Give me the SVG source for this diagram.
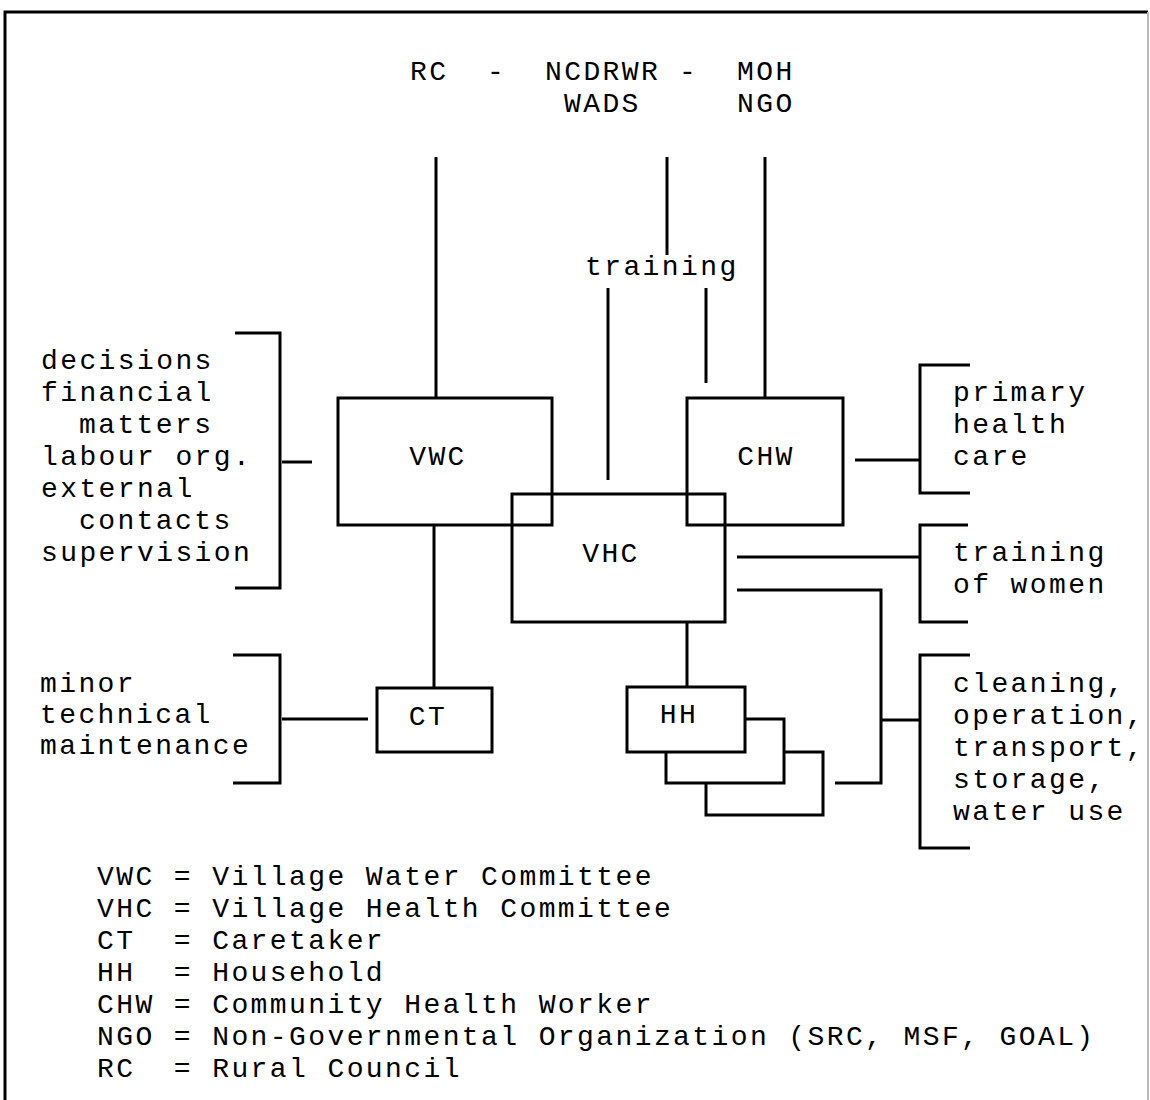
<svg xmlns="http://www.w3.org/2000/svg" width="1150" height="1100" viewBox="0 0 1150 1100">
<style>
text{font-family:"Liberation Mono","DejaVu Sans Mono",monospace;font-size:28px;letter-spacing:2.4px;fill:#000;white-space:pre}
.lbl{text-anchor:middle}
.ln{stroke:#000;stroke-width:3;fill:none}
.box{stroke:#000;stroke-width:3;fill:none}
.sbox{stroke:#000;stroke-width:3;fill:#fff}
</style>
<rect width="1150" height="1100" fill="#fff"/>
<g id="frame">
<path class="ln" d="M5,1100 V12 H1148"/>
<line x1="1148" y1="12" x2="1148" y2="1100" stroke="#bbb" stroke-width="2"/>
</g>
<g id="top-orgs">
<text x="410" y="80">RC</text>
<text x="487" y="80">-</text>
<text x="545" y="80">NCDRWR</text>
<text x="679" y="80">-</text>
<text x="737" y="80">MOH</text>
<text x="564" y="112">WADS</text>
<text x="737" y="112">NGO</text>
</g>
<g id="connectors">
<line class="ln" x1="436" y1="157" x2="436" y2="398"/>
<line class="ln" x1="667" y1="157" x2="667" y2="255"/>
<line class="ln" x1="608" y1="288" x2="608" y2="480"/>
<line class="ln" x1="706" y1="288" x2="706" y2="383"/>
<line class="ln" x1="765" y1="157" x2="765" y2="398"/>
<line class="ln" x1="434" y1="525" x2="434" y2="688"/>
<line class="ln" x1="282" y1="462" x2="312" y2="462"/>
<line class="ln" x1="282" y1="719" x2="368" y2="719"/>
<line class="ln" x1="687" y1="622" x2="687" y2="687"/>
<line class="ln" x1="855" y1="460" x2="920" y2="460"/>
<line class="ln" x1="737" y1="557" x2="920" y2="557"/>
<path class="ln" d="M737,590 H881 V783 H835"/>
<line class="ln" x1="881" y1="720" x2="920" y2="720"/>
</g>
<g id="training-label"><text x="585" y="275">training</text></g>
<g id="node-VWC"><rect class="box" x="338" y="398" width="214" height="127"/><text class="lbl" x="438" y="465">VWC</text></g>
<g id="node-CHW"><rect class="box" x="687" y="398" width="156" height="127"/><text class="lbl" x="766" y="465">CHW</text></g>
<g id="node-VHC"><rect class="box" x="512" y="494" width="213" height="128"/><text class="lbl" x="611" y="562">VHC</text></g>
<g id="node-CT"><rect class="box" x="377" y="688" width="115" height="64"/><text class="lbl" x="428" y="725">CT</text></g>
<g id="node-HH">
<rect class="sbox" x="706" y="752" width="117" height="63"/>
<rect class="sbox" x="666" y="719" width="118" height="64"/>
<rect class="sbox" x="627" y="687" width="118" height="65"/>
<text class="lbl" x="679" y="723">HH</text>
</g>
<g id="bracket-VWC-tasks">
<path class="ln" d="M235,333 H280 V588 H235"/>
<text x="41" y="369">decisions</text>
<text x="41" y="401">financial</text>
<text x="79" y="433">matters</text>
<text x="41" y="465">labour org.</text>
<text x="41" y="497">external</text>
<text x="79" y="529">contacts</text>
<text x="41" y="561">supervision</text>
</g>
<g id="bracket-CT-tasks">
<path class="ln" d="M233,655 H280 V783 H233"/>
<text x="40" y="692">minor</text>
<text x="40" y="723">technical</text>
<text x="40" y="754">maintenance</text>
</g>
<g id="bracket-CHW-tasks">
<path class="ln" d="M970,365 H920 V493 H970"/>
<text x="953" y="401">primary</text>
<text x="953" y="433">health</text>
<text x="953" y="465">care</text>
</g>
<g id="bracket-VHC-tasks">
<path class="ln" d="M968,525 H920 V622 H968"/>
<text x="953" y="561">training</text>
<text x="953" y="593">of women</text>
</g>
<g id="bracket-HH-tasks">
<path class="ln" d="M970,655 H920 V848 H970"/>
<text x="953" y="692">cleaning,</text>
<text x="953" y="724">operation,</text>
<text x="953" y="756">transport,</text>
<text x="953" y="788">storage,</text>
<text x="953" y="820">water use</text>
</g>
<g id="legend">
<text x="97" y="885" xml:space="preserve">VWC = Village Water Committee</text>
<text x="97" y="917" xml:space="preserve">VHC = Village Health Committee</text>
<text x="97" y="949" xml:space="preserve">CT  = Caretaker</text>
<text x="97" y="981" xml:space="preserve">HH  = Household</text>
<text x="97" y="1013" xml:space="preserve">CHW = Community Health Worker</text>
<text x="97" y="1045" xml:space="preserve">NGO = Non-Governmental Organization (SRC, MSF, GOAL)</text>
<text x="97" y="1077" xml:space="preserve">RC  = Rural Council</text>
</g>
</svg>
